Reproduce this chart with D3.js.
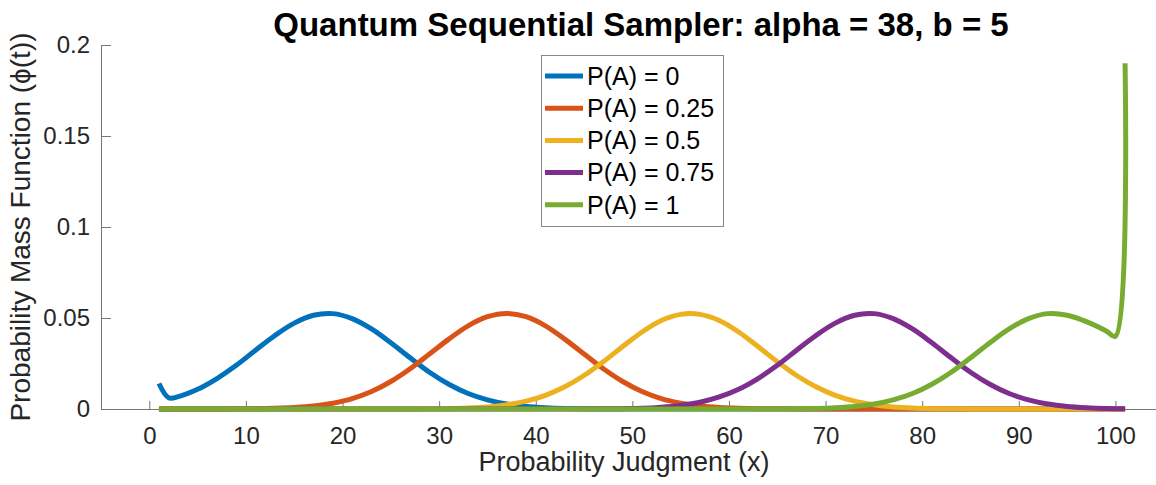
<!DOCTYPE html>
<html>
<head>
<meta charset="utf-8">
<script src="https://cdn.jsdelivr.net/npm/d3@7"></script>
<style>
  body { margin: 0; background: #fff; }
  svg { font-family: "Liberation Sans", Arial, sans-serif; }
</style>
</head>
<body>
<svg id="chart" width="1156" height="485"></svg>
<script>
// x positions of the sampled points (probability judgment)
const xs = [1, 2, 3, 5, 7, 9, 11, 13, 15, 17, 19, 21, 23, 25, 27, 29, 31, 33, 35, 37, 39, 41, 43, 45, 47, 49,
  51, 53, 55, 57, 59, 61, 63, 65, 67, 69, 71, 73, 75, 77, 79, 81, 83, 85, 87, 89, 91, 93, 95, 97, 99, 100, 101];

const pa0 = [0.0140, 0.0062, 0.0068, 0.0108, 0.0167, 0.0240, 0.0323, 0.0404, 0.0472, 0.0515, 0.0524, 0.0497, 0.0440,
  0.0364, 0.0281, 0.0202, 0.0136, 0.0085, 0.0050, 0.0027, 0.0014, 0.0007, 0.0003, 0.0001, 0, 0,
  0, 0, 0, 0, 0, 0, 0, 0, 0, 0, 0, 0, 0, 0, 0, 0, 0, 0, 0, 0, 0, 0, 0, 0, 0, 0, 0];

const pa025 = [0, 0, 0, 0, 0, 0.0001, 0.0002, 0.0004, 0.0008, 0.0016, 0.0032, 0.0057, 0.0096,
  0.0151, 0.0221, 0.0302, 0.0384, 0.0457, 0.0507, 0.0525, 0.0507, 0.0457, 0.0384, 0.0302, 0.0221, 0.0151,
  0.0096, 0.0057, 0.0032, 0.0016, 0.0008, 0.0004, 0.0002, 0.0001, 0, 0, 0, 0, 0, 0, 0, 0, 0, 0, 0, 0, 0, 0, 0, 0, 0, 0, 0];

const pa05 = [0, 0, 0, 0, 0, 0, 0, 0, 0, 0, 0, 0, 0, 0, 0, 0.0001, 0.0002, 0.0005, 0.0011, 0.0023, 0.0043, 0.0075,
  0.0122, 0.0184, 0.0260, 0.0343, 0.0423, 0.0486, 0.0520, 0.0520, 0.0486, 0.0423, 0.0343, 0.0260, 0.0184, 0.0122,
  0.0075, 0.0043, 0.0023, 0.0011, 0.0005, 0.0002, 0.0001, 0, 0, 0, 0, 0, 0, 0, 0, 0, 0];

const pa075 = [0, 0, 0, 0, 0, 0, 0, 0, 0, 0, 0, 0, 0, 0, 0, 0, 0, 0, 0, 0, 0, 0, 0, 0, 0.0001, 0.0002,
  0.0004, 0.0010, 0.0020, 0.0037, 0.0066, 0.0108, 0.0167, 0.0240, 0.0323, 0.0404, 0.0472, 0.0515, 0.0524, 0.0497,
  0.0440, 0.0364, 0.0281, 0.0202, 0.0136, 0.0085, 0.0050, 0.0027, 0.0014, 0.0007, 0.0003, 0.0002, 0.0002];

const pa1 = [0, 0, 0, 0, 0, 0, 0, 0, 0, 0, 0, 0, 0, 0, 0, 0, 0, 0, 0, 0, 0, 0, 0, 0, 0, 0, 0, 0, 0, 0, 0, 0, 0, 0,
  0.0001, 0.0003, 0.0007, 0.0014, 0.0027, 0.0050, 0.0085, 0.0136, 0.0202, 0.0281, 0.0364, 0.0440, 0.0497, 0.0524,
  0.0515, 0.0480, 0.0430, 0.0400, 0.1900];

const seriesNames = ["P(A) = 0", "P(A) = 0.25", "P(A) = 0.5", "P(A) = 0.75", "P(A) = 1"];
const seriesValues = [pa0, pa025, pa05, pa075, pa1];
const colors = ["#0072BD", "#D95319", "#EDB120", "#7E2F8E", "#77AC30"];
const xTicks = [0, 10, 20, 30, 40, 50, 60, 70, 80, 90, 100];
const yTicks = [0, 0.05, 0.1, 0.15, 0.2];

const svg = d3.select("#chart");

const x = d3.scaleLinear().domain([-5, 104.2]).range([101, 1156]);
const y = d3.scaleLinear().domain([0, 0.2]).range([409, 45]);

// axes
const xAxis = svg.append("g")
  .attr("transform", "translate(0,409)")
  .call(d3.axisBottom(x).tickValues(xTicks).tickSize(-8).tickSizeOuter(0).tickPadding(18));

const yAxis = svg.append("g")
  .attr("transform", "translate(101,0)")
  .call(d3.axisLeft(y).tickValues(yTicks).tickFormat(d => String(d)).tickSize(-10).tickSizeOuter(0).tickPadding(11));

[xAxis, yAxis].forEach(a => {
  a.select(".domain").attr("stroke", "#777");
  a.selectAll(".tick line").attr("stroke", "#777");
  a.selectAll("text").attr("fill", "#262626").style("font-size", "24px");
});

// curves
const line = d3.line()
  .x((d, i) => x(xs[i]))
  .y(d => y(d))
  .curve(d3.curveCatmullRom.alpha(0.5));

seriesValues.forEach((vals, k) => {
  svg.append("path")
    .datum(vals)
    .attr("fill", "none")
    .attr("stroke", colors[k])
    .attr("stroke-width", 5)
    .attr("stroke-linejoin", "round")
    .attr("d", line);
});

// title and axis labels
svg.append("text")
  .attr("x", 641).attr("y", 36)
  .attr("text-anchor", "middle")
  .style("font-size", "33px").style("font-weight", "bold")
  .attr("fill", "#000")
  .text("Quantum Sequential Sampler: alpha = 38, b = 5");

svg.append("text")
  .attr("x", 624).attr("y", 471)
  .attr("text-anchor", "middle")
  .style("font-size", "27px")
  .attr("fill", "#262626")
  .text("Probability Judgment (x)");

svg.append("text")
  .attr("transform", "translate(30,227) rotate(-90)")
  .attr("text-anchor", "middle")
  .style("font-size", "28px")
  .attr("fill", "#262626")
  .text("Probability Mass Function (\u03d5(t))");

// legend
const legend = svg.append("g");
legend.append("rect")
  .attr("x", 541.5).attr("y", 55.5)
  .attr("width", 182).attr("height", 171)
  .attr("fill", "#fff").attr("stroke", "#888");

seriesNames.forEach((name, k) => {
  const ly = 76 + k * 32.2;
  legend.append("line")
    .attr("x1", 545).attr("x2", 583)
    .attr("y1", ly).attr("y2", ly)
    .attr("stroke", colors[k]).attr("stroke-width", 5);
  legend.append("text")
    .attr("x", 587).attr("y", ly)
    .attr("dy", "0.35em")
    .style("font-size", "25px")
    .attr("fill", "#000")
    .text(name);
});
</script>
</body>
</html>
